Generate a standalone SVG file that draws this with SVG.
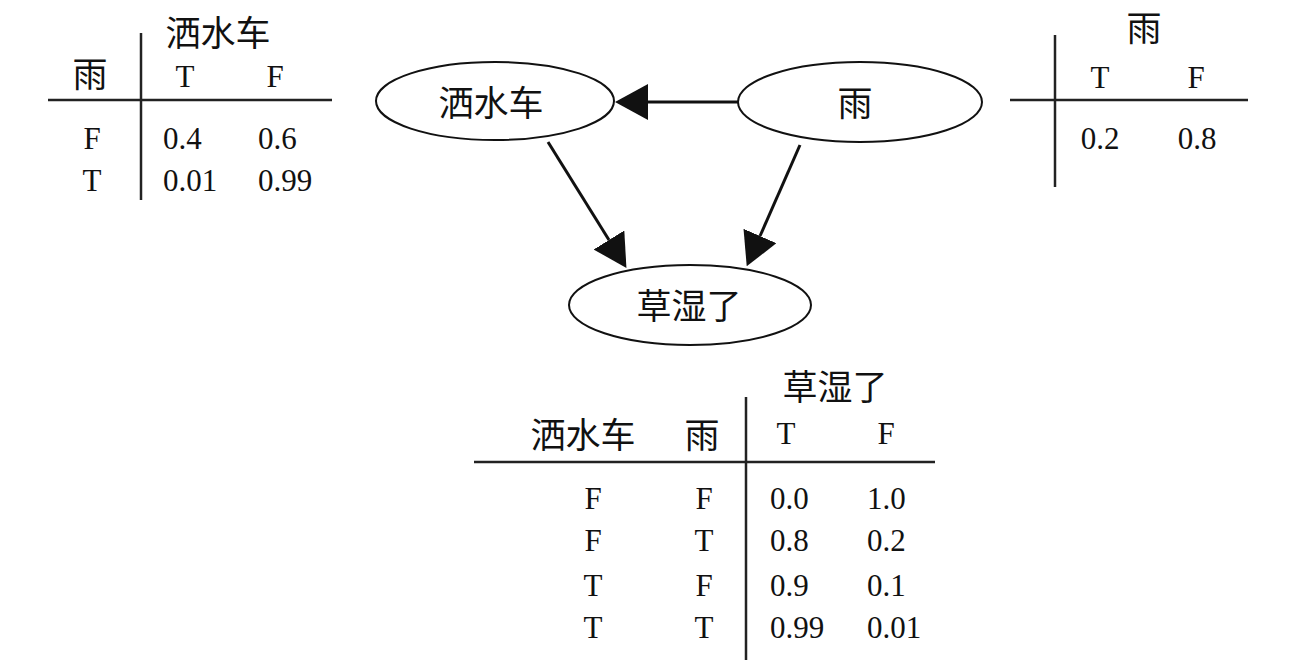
<svg xmlns="http://www.w3.org/2000/svg" width="1306" height="668" viewBox="0 0 1306 668">
<style>
text{font-family:"Liberation Serif","Noto Sans CJK SC",serif;fill:#111;}
.cj{font-size:35px;}
.lt{font-size:31px;}
.m{text-anchor:middle;}
.rule{stroke:#222;stroke-width:2.5;fill:none;}
.node{fill:#fff;stroke:#111;stroke-width:2;}
.edge{stroke:#111;stroke-width:3;fill:none;marker-end:url(#ah);}
</style>
<defs>
<marker id="ah" viewBox="0 0 33 36" refX="0" refY="18" markerWidth="33" markerHeight="36" markerUnits="userSpaceOnUse" orient="auto">
<path d="M0,0 L33,18 L0,36 Z" fill="#111"/>
</marker>
</defs>
<rect width="1306" height="668" fill="#fff"/>

<g id="table-sprinkler">
<line class="rule" x1="141" y1="33" x2="141" y2="200"/>
<line class="rule" x1="48" y1="100" x2="332" y2="100"/>
<text class="cj m" x="218" y="46">洒水车</text>
<text class="cj m" x="90" y="87">雨</text>
<text class="lt m" x="185" y="87">T</text>
<text class="lt m" x="275" y="87">F</text>
<text class="lt m" x="92" y="149">F</text>
<text class="lt" x="163" y="149">0.4</text>
<text class="lt" x="258" y="149">0.6</text>
<text class="lt m" x="92" y="191">T</text>
<text class="lt" x="163" y="191">0.01</text>
<text class="lt" x="258" y="191">0.99</text>
</g>

<g id="table-rain">
<line class="rule" x1="1055" y1="35" x2="1055" y2="187"/>
<line class="rule" x1="1010" y1="100" x2="1248" y2="100"/>
<text class="cj m" x="1144" y="41">雨</text>
<text class="lt m" x="1100" y="88">T</text>
<text class="lt m" x="1196" y="88">F</text>
<text class="lt m" x="1100" y="149">0.2</text>
<text class="lt m" x="1197" y="149">0.8</text>
</g>

<g id="table-grass">
<line class="rule" x1="746" y1="397" x2="746" y2="660"/>
<line class="rule" x1="474" y1="462" x2="935" y2="462"/>
<text class="cj m" x="835" y="400">草湿了</text>
<text class="cj m" x="583" y="448">洒水车</text>
<text class="cj m" x="702" y="448">雨</text>
<text class="lt m" x="786" y="444">T</text>
<text class="lt m" x="886" y="444">F</text>
<text class="lt m" x="593" y="509">F</text><text class="lt m" x="704" y="509">F</text><text class="lt" x="770" y="509">0.0</text><text class="lt" x="867" y="509">1.0</text>
<text class="lt m" x="593" y="551">F</text><text class="lt m" x="704" y="551">T</text><text class="lt" x="770" y="551">0.8</text><text class="lt" x="867" y="551">0.2</text>
<text class="lt m" x="593" y="596">T</text><text class="lt m" x="704" y="596">F</text><text class="lt" x="770" y="596">0.9</text><text class="lt" x="867" y="596">0.1</text>
<text class="lt m" x="593" y="638">T</text><text class="lt m" x="704" y="638">T</text><text class="lt" x="770" y="638">0.99</text><text class="lt" x="867" y="638">0.01</text>
</g>

<g id="edges">
<line class="edge" x1="738" y1="102" x2="648" y2="102"/>
<line class="edge" x1="548" y1="142" x2="609" y2="240"/>
<line class="edge" x1="800" y1="145" x2="760" y2="236"/>
</g>

<g id="node-sprinkler">
<ellipse class="node" cx="495" cy="101" rx="119" ry="39"/>
<text class="cj m" x="491" y="116">洒水车</text>
</g>
<g id="node-rain">
<ellipse class="node" cx="860" cy="102" rx="122" ry="40"/>
<text class="cj m" x="855" y="116">雨</text>
</g>
<g id="node-grass">
<ellipse class="node" cx="690" cy="305" rx="121" ry="40"/>
<text class="cj m" x="689" y="319">草湿了</text>
</g>
</svg>
